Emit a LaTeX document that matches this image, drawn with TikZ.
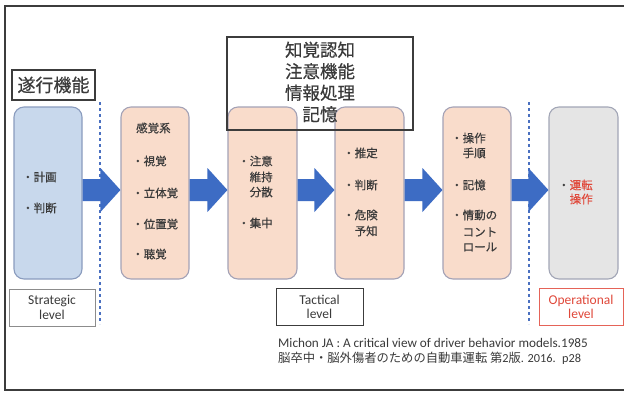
\documentclass[tikz,border=0pt]{standalone}
\usepackage{fontspec}
\setmainfont{Carlito}
\newfontfamily\jp{Noto Sans CJK JP}
\newfontfamily\jpb{Noto Sans CJK JP}[FakeBold=0.5]
\usetikzlibrary{calc}
\definecolor{bluefill}{HTML}{C8D8EC}
\definecolor{blueedge}{HTML}{8A9CBE}
\definecolor{pinkfill}{HTML}{F9DCCB}
\definecolor{pinkedge}{HTML}{A4A2B6}
\definecolor{grayfill}{HTML}{E5E5E5}
\definecolor{grayedge}{HTML}{A2A6B6}
\definecolor{arrowc}{HTML}{3D6CC4}
\definecolor{dashc}{HTML}{4A70C0}
\definecolor{textc}{HTML}{3A3A3A}
\definecolor{redc}{HTML}{E0483A}
\definecolor{frameC}{HTML}{3C3C3C}
\newcommand\blkarrow[2]{%
  \fill[arrowc] let \p1=(#1.east), \p2=(#2.west) in
   (\x1,\y1+14pt) -- (\x2-20pt,\y1+14pt) -- (\x2-20pt,\y1+25pt) -- (\x2,\y1+3pt)
   -- (\x2-20pt,\y1-19pt) -- (\x2-20pt,\y1-8pt) -- (\x1,\y1-8pt) -- cycle;}
\tikzset{
  stagebox/.style={rounded corners=10pt, line width=1.1pt, minimum width=68pt,
    minimum height=172pt, inner sep=0pt},
  bluebox/.style={stagebox, fill=bluefill, draw=blueedge},
  pinkbox/.style={stagebox, fill=pinkfill, draw=pinkedge},
  graybox/.style={stagebox, fill=grayfill, draw=grayedge},
  txt/.style={font=\jpb\fontsize{11.5}{13}\selectfont, text=textc, inner sep=0pt, anchor=west},
  lvl/.style={draw, line width=1pt, fill=white, minimum height=37pt, inner sep=0pt,
    align=center, font=\fontsize{13.5}{14.5}\selectfont},
  sepline/.style={draw=dashc, line width=1.2pt, dash pattern=on 3pt off 3pt},
}
\begin{document}
\begin{tikzpicture}[x=1pt,y=-1pt]
\clip (0,0) rectangle (624,392);
\fill[white] (0,0) rectangle (624,392);
\draw[frameC, line width=1.2pt] (5,6) rectangle (640,390);

% separators
\coordinate (d1a) at (100,102); \coordinate (d1b) at (100,324);
\coordinate (d2a) at (529,102); \coordinate (d2b) at (529,324);
\draw[sepline] (d1a) -- (d1b);
\draw[sepline] (d2a) -- (d2b);

% stage boxes
\node[bluebox] (s) at (48,193) {};
\node[pinkbox] (p1) at (155,193) {};
\node[pinkbox, minimum width=69pt] (p2) at (262.5,193) {};
\node[pinkbox, minimum width=69pt] (p3) at (369.5,193) {};
\node[pinkbox] (p4) at (477,193) {};
\node[graybox, minimum width=69pt] (g) at (583.5,193) {};

% block arrows
\blkarrow{s}{p1}
\blkarrow{p1}{p2}
\blkarrow{p2}{p3}
\blkarrow{p3}{p4}
\blkarrow{p4}{g}

% texts in boxes
\node[txt] (s1) at (22,177) {・計画};
\node[txt] (s2) at (22,208) {・判断};

\node[txt] (a0) at (136,128) {感覚系};
\node[txt] (a1) at (132,161) {・視覚};
\node[txt] (a2) at (132,193) {・立体覚};
\node[txt] (a3) at (132,224) {・位置覚};
\node[txt] (a4) at (132,254) {・聴覚};

\node[txt] (b1) at (238,161) {・注意};
\node[txt] (b2) at (249.5,177) {維持};
\node[txt] (b3) at (249.5,192) {分散};
\node[txt] (b4) at (238,223) {・集中};

\node[txt] (c1) at (343,153) {・推定};
\node[txt] (c2) at (343,185) {・判断};
\node[txt] (c3) at (343,215) {・危険};
\node[txt] (c4) at (354.5,231) {予知};

\node[txt] (e1) at (451,138) {・操作};
\node[txt] (e2) at (462.5,153) {手順};
\node[txt] (e3) at (451,185) {・記憶};
\node[txt] (e4) at (451,215) {・情動の};
\node[txt] (e5) at (462.5,232) {コント};
\node[txt] (e6) at (462.5,247) {ロール};

\node[txt] (f0) at (558,185) {・\textcolor{redc}{運転}};
\node[txt, text=redc] (f1) at (569.5,199) {操作};

% cognitive box
\node[draw=frameC, line width=1.2pt, minimum width=186pt, minimum height=93pt, inner sep=0pt]
  (cog) at (320,83.5) {};
\node[font=\jpb\fontsize{17.5}{21.5}\selectfont, text=textc, align=center, inner sep=0pt]
  (cogt) at (320,82) {知覚認知\\注意機能\\情報処理\\記憶};

% executive function label
\node[draw=frameC, line width=1.5pt, fill=white, minimum width=83pt, minimum height=30pt,
  inner sep=0pt, font=\jpb\fontsize{18}{20}\selectfont, text=textc] (exe) at (53.5,85) {遂行機能};

% level labels
\node[lvl, draw=gray!90, minimum width=86pt, text=textc] (ls) at (52,307.5) {Strategic\\level};
\node[lvl, draw=frameC, minimum width=87pt, text=textc] (lt) at (319.5,307) {Tactical\\level};
\node[lvl, draw=redc!85, minimum width=84pt, text=redc] (lo) at (581,307) {Operational\\level};

% citation
\node[anchor=west, inner sep=0pt, text=textc, font=\fontsize{13.2}{15}\selectfont] (cit1) at (278,343)
  {Michon JA : A critical view of driver behavior models.1985};
\node[anchor=west, inner sep=0pt, text=textc, font=\fontsize{12.3}{15}\selectfont] (cit2) at (278,358)
  {{\jp 脳卒中・脳外傷者のための自動車運転 第}2{\jp 版}. 2016.~ p28};
\end{tikzpicture}
\end{document}
